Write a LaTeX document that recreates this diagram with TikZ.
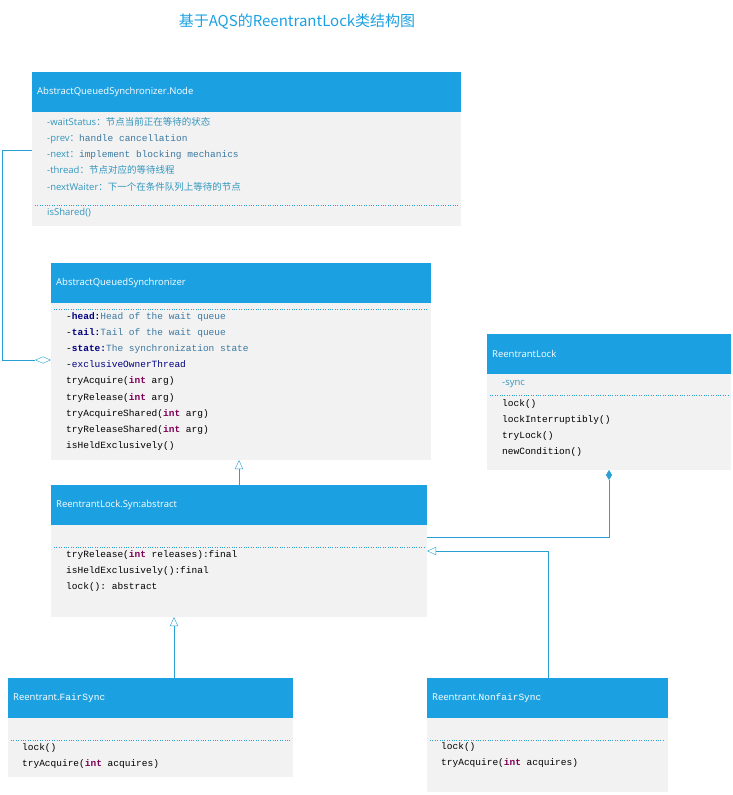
\documentclass[tikz,border=0pt]{standalone}
\usepackage{fontspec}
\setmainfont{Open Sans}
\setmonofont{Liberation Mono}
\newfontfamily\cjk{Noto Sans CJK SC}
\usetikzlibrary{positioning, arrows.meta}
\usetikzlibrary{calc}
\definecolor{hdrblue}{RGB}{27,161,226}
\definecolor{bodygray}{RGB}{242,242,242}
\definecolor{fieldcol}{RGB}{50,150,190}
\definecolor{navy}{RGB}{0,0,128}
\definecolor{desccol}{RGB}{60,120,160}
\definecolor{kwcol}{RGB}{127,0,85}
\definecolor{linecol}{RGB}{40,160,210}
\newcommand{\kw}[1]{\textcolor{kwcol}{\textbf{#1}}}
\newcommand{\fld}[1]{\textcolor{navy}{\textbf{#1}}}
\newcommand{\dsc}[1]{\textcolor{desccol}{#1}}
\newcommand{\zh}[1]{\textcolor{fieldcol}{{\cjk #1}}}

\begin{document}
\begin{tikzpicture}[x=1pt, y=-1pt,
      hdr/.style={fill=hdrblue, text=white, anchor=north west, minimum height=40pt,
        text width=#1-10pt, inner xsep=5pt, align=left, font=\fontsize{9.5}{11}\selectfont},
      body/.style={fill=bodygray, anchor=north west, inner sep=0pt},
      code/.style={anchor=north west, inner sep=0pt, align=left,
        font=\ttfamily\fontsize{9.5}{16.2}\selectfont},
      sep/.style={draw=linecol, dotted, thin},
      link/.style={draw=linecol, thin},
      inherit/.style={link, -{Triangle[open, length=9pt, width=8pt]}},
      agg/.style={link, -{Diamond[open, length=16pt, width=7pt]}},
      comp/.style={link, -{Diamond[length=10pt, width=6pt]}}
    ]
      \useasboundingbox (0,0) rectangle (733,795);

      % title
      \node[text=hdrblue, font=\cjk\fontsize{15}{18}\selectfont] (title) at (297,22) {基于AQS的ReentrantLock类结构图};

      % AbstractQueuedSynchronizer.Node
      \node[body, minimum width=429pt, minimum height=114pt] (nodeB) at (32,112) {};
      \node[hdr=429pt] (nodeH) at (32,72) {AbstractQueuedSynchronizer.Node};
      \draw[sep] (35,205) -- (458,205);
      \node[code, text=fieldcol] (nodeF) at (47,117) {%
        {\rmfamily -waitStatus}\zh{：节点当前正在等待的状态}\\
        {\rmfamily -prev}\zh{：}\dsc{handle cancellation}\\
        {\rmfamily -next}\zh{：}\dsc{implement blocking mechanics}\\
        {\rmfamily -thread}\zh{：节点对应的等待线程}\\
        {\rmfamily -nextWaiter}\zh{：下一个在条件队列上等待的节点}};
      \node[code, text=fieldcol, font=\fontsize{9.5}{11}\selectfont] (nodeM) at (47,208) {isShared()};

      % AbstractQueuedSynchronizer
      \node[body, minimum width=380pt, minimum height=158pt] (aqsB) at (51,302) {};
      \node[hdr=380pt] (aqsH) at (51,263) {AbstractQueuedSynchronizer};
      \draw[sep] (54,309) -- (428,309);
      \node[code] (aqsF) at (66,312) {%
        -\fld{head:}\dsc{Head of the wait queue}\\
        -\fld{tail:}\dsc{Tail of the wait queue}\\
        -\fld{state:}\dsc{The synchronization state}\\
        -\textcolor{navy}{exclusiveOwnerThread}\\
        tryAcquire(\kw{int} arg)\\
        tryRelease(\kw{int} arg)\\
        tryAcquireShared(\kw{int} arg)\\
        tryReleaseShared(\kw{int} arg)\\
        isHeldExclusively()};

      % ReentrantLock
      \node[body, minimum width=244pt, minimum height=97pt] (lockB) at (487,373) {};
      \node[hdr=244pt] (lockH) at (487,334) {ReentrantLock};
      \node[code, text=fieldcol, font=\fontsize{9.5}{11}\selectfont] (lockF) at (502,380) {-sync};
      \draw[sep] (490,395) -- (728,395);
      \node[code] (lockM) at (502,399) {%
        lock()\\
        lockInterruptibly()\\
        tryLock()\\
        newCondition()};

      % ReentrantLock.Syn
      \node[body, minimum width=376pt, minimum height=92pt] (synB) at (51,525) {};
      \node[hdr=376pt] (synH) at (51,485) {ReentrantLock.Syn:abstract};
      \draw[sep] (54,547) -- (424,547);
      \node[code] (synM) at (66,550) {%
        tryRelease(\kw{int} releases):final\\
        isHeldExclusively():final\\
        lock(): abstract};

      % FairSync
      \node[body, minimum width=285pt, minimum height=59pt] (fairB) at (8,718) {};
      \node[hdr=285pt] (fairH) at (8,678) {Reentrant.{\ttfamily FairSync}};
      \draw[sep] (11,740) -- (290,740);
      \node[code] (fairM) at (22,743) {%
        lock()\\
        tryAcquire(\kw{int} acquires)};

      % NonfairSync
      \node[body, minimum width=241pt, minimum height=74pt] (unfairB) at (427,718) {};
      \node[hdr=241pt] (unfairH) at (427,678) {Reentrant.{\ttfamily NonfairSync}};
      \draw[sep] (430,740) -- (665,740);
      \node[code] (unfairM) at (441,742) {%
        lock()\\
        tryAcquire(\kw{int} acquires)};

      % connectors
      \coordinate (aggIn) at (51,360);
      \coordinate (nodeOut) at (32,150);
      \draw[agg] (nodeOut) -- ++(-30,0) |- (aggIn);
      \draw[inherit] (synH.north -| 239,0) -- (239,460);
      \coordinate (lockOut) at (609,470);
      \coordinate (compIn) at (427,537);
      \draw[comp] (compIn) -| (lockOut);
      \draw[inherit] (fairH.north -| 174,0) -- (174,617);
      \coordinate (unfairIn) at (427,551);
      \draw[inherit] (unfairH.north -| 548,0) |- (unfairIn);
    \end{tikzpicture}
\end{document}
